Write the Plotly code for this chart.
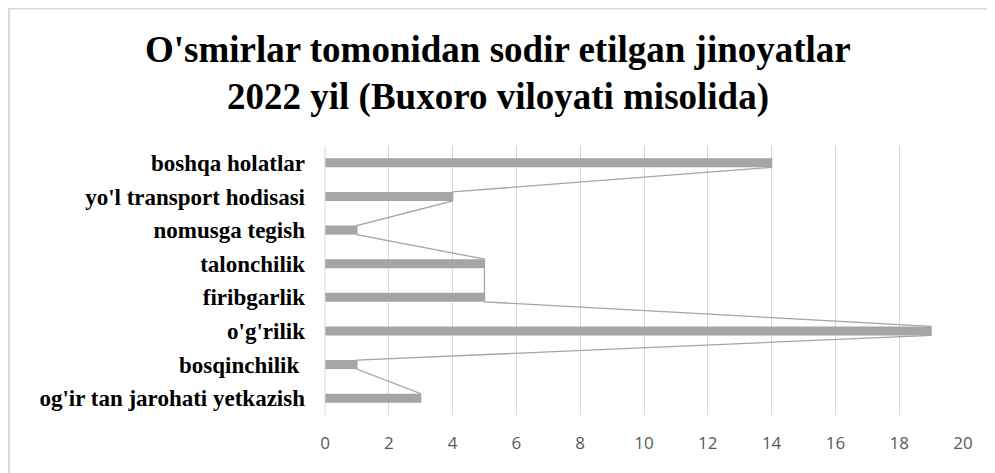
import plotly.graph_objects as go

categories = ["og'ir tan jarohati yetkazish", "bosqinchilik ", "o'g'rilik", "firibgarlik",
              "talonchilik", "nomusga tegish", "yo'l transport hodisasi", "boshqa holatlar"]
values = [3, 1, 19, 5, 5, 1, 4, 14]
x_ticks = [0, 2, 4, 6, 8, 10, 12, 14, 16, 18, 20]
title_lines = ["O'smirlar tomonidan sodir etilgan jinoyatlar", "2022 yil (Buxoro viloyati misolida)"]

W, H = 995, 473
OFF = 8  # page body margin
L, T = 325 - OFF, 146 - OFF
pw, ph = 638, 269
R, B = W - L - pw, H - T - ph
bar_w = 0.27
pos = list(range(len(categories)))

# series lines: from top bar downwards, joining bar-end edges
lx, ly = [], []
for i in reversed(pos):
    lx += [values[i], values[i]]
    ly += [pos[i] + bar_w / 2, pos[i] - bar_w / 2]

fig = go.Figure()
fig.add_trace(go.Bar(x=values, y=pos, orientation="h", width=bar_w,
                     marker=dict(color="#a5a5a5", line=dict(width=0)), hoverinfo="x"))
fig.add_trace(go.Scatter(x=lx, y=ly, mode="lines", line=dict(color="#a5a5a5", width=1.3),
                         hoverinfo="skip"))

serif = "Liberation Serif, Times New Roman, serif"
fig.update_layout(
    width=W, height=H, margin=dict(l=L, r=R, t=T, b=B),
    paper_bgcolor="white", plot_bgcolor="white", showlegend=False,
    xaxis=dict(range=[0, 20], tickvals=x_ticks, showgrid=True, gridcolor="#d9d9d9", gridwidth=1,
               zeroline=False, showline=False, ticks="", ticklabelstandoff=16,
               tickfont=dict(family="Open Sans, Liberation Sans, sans-serif", size=17, color="#595959")),
    yaxis=dict(range=[-0.5, len(categories) - 0.5], tickvals=pos, ticktext=categories,
               showgrid=False, zeroline=False, showline=False, ticks="", ticklabelstandoff=19,
               tickfont=dict(family=serif, size=23, color="black", weight="bold")),
    annotations=[
        dict(text="<b>%s</b>" % title_lines[0], xref="paper", yref="paper",
             x=(498 - OFF - L) / pw, y=1 + (T - (50 - OFF)) / ph, xanchor="center", yanchor="middle",
             showarrow=False, font=dict(family=serif, size=37, color="black")),
        dict(text="<b>%s</b>" % title_lines[1], xref="paper", yref="paper",
             x=(498 - OFF - L) / pw, y=1 + (T - (97 - OFF)) / ph, xanchor="center", yanchor="middle",
             showarrow=False, font=dict(family=serif, size=37, color="black")),
    ],
    shapes=[
        dict(type="line", xref="paper", yref="paper", x0=0, x1=0, y0=0, y1=1,
             line=dict(color="#d9d9d9", width=1)),
        dict(type="rect", xref="paper", yref="paper",
             x0=(1 - L) / pw, x1=(W + 5 - L) / pw, y0=-(B + 5) / ph, y1=1 + (T - 0.5) / ph,
             line=dict(color="#d9d9d9", width=2), layer="below"),
    ],
)
fig.write_html("out.html")
